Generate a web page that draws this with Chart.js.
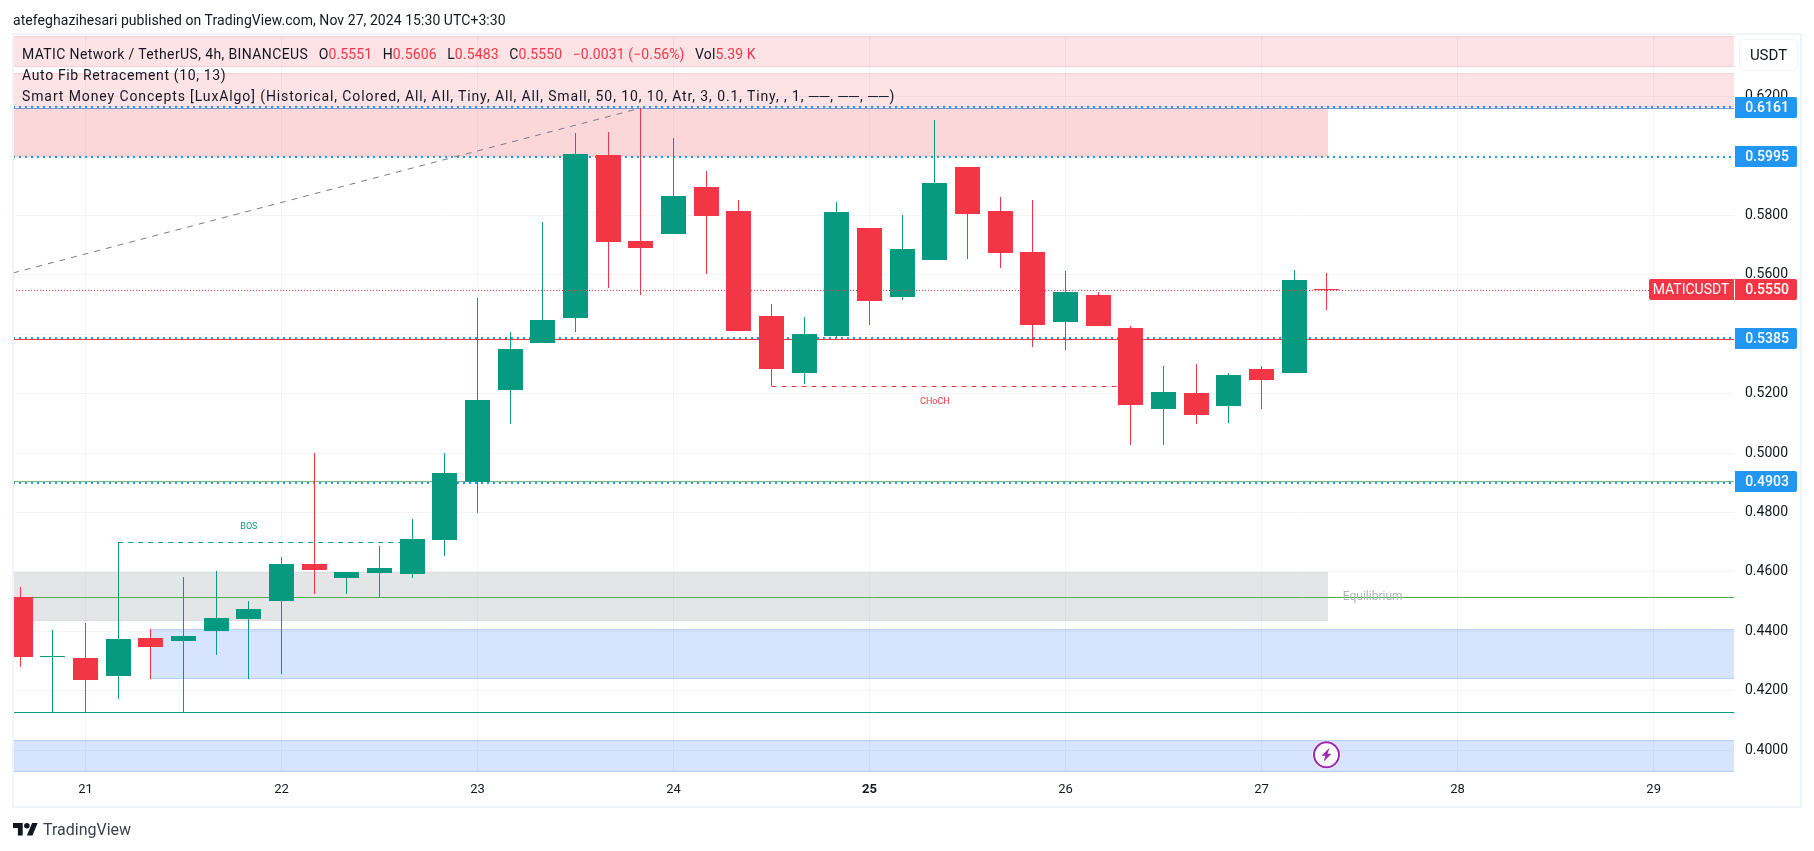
<!DOCTYPE html>
<html>
<head>
<meta charset="utf-8">
<title>MATICUSDT 4h</title>
<script src="https://cdn.jsdelivr.net/npm/chart.js@4/dist/chart.umd.min.js"></script>
<style>
    html, body { margin: 0; background: #fff; }
    #page { position: relative; width: 1814px; height: 851px; overflow: hidden; font-family: Roboto, sans-serif; color: #131722; }
    #budget { position: absolute; left: 0; top: 0; }
    .txt { position: absolute; white-space: pre; font-size: 14px; line-height: 18px; }
    .red { color: #F23645; }
    .gap { margin-left: 10.5px; }
    #unit { position: absolute; left: 1739px; top: 39px; width: 57px; height: 30px; line-height: 30px; border: 1px solid #F0F3FA; border-radius: 5px; text-align: center; font-size: 15px; }
    #logo { position: absolute; left: 13px; top: 820px; }
    #brand { position: absolute; left: 43px; top: 819px; font-size: 16px; line-height: 22px; color: #3B3F4B; }
</style>
</head>
<body>
<div id="page">
    <canvas id="budget" width="1814" height="851"></canvas>
    <div class="txt" style="left:13px;top:11px;letter-spacing:.06px">atefeghazihesari published on TradingView.com, Nov 27, 2024 15:30 UTC+3:30</div>
    <div class="txt" style="left:22px;top:45px;letter-spacing:.13px"><span style="letter-spacing:.38px">MATIC Network / TetherUS, 4h, BINANCEUS</span><span class="gap">O</span><span class="red">0.5551</span><span class="gap">H</span><span class="red">0.5606</span><span class="gap">L</span><span class="red">0.5483</span><span class="gap">C</span><span class="red">0.5550</span><span class="gap red">−0.0031 (−0.56%)</span><span class="gap">Vol</span><span class="red">5.39 K</span></div>
    <div class="txt" style="left:22px;top:66px;letter-spacing:.65px">Auto Fib Retracement (10, 13)</div>
    <div class="txt" style="left:22px;top:87px;letter-spacing:.89px">Smart Money Concepts [LuxAlgo] (Historical, Colored, All, All, Tiny, All, All, Small, 50, 10, 10, Atr, 3, 0.1, Tiny, , 1, ──, ──, ──)</div>
    <div id="unit">USDT</div>
    <svg id="logo" width="25" height="20" viewBox="0 0 36 28"><path fill="#131722" d="M14 22H7V11H0V4h14v18zM28 22h-8l7.5-18h8L28 22z"/><circle fill="#131722" cx="20" cy="8" r="4"/></svg>
    <div id="brand">TradingView</div>
</div>

<script>
// ── CANDLES (one every 4h) ──
const opens = [0.4516, 0.4316, 0.4311, 0.4250, 0.4378, 0.4368, 0.4401, 0.4442, 0.4502, 0.4627, 0.4580, 0.4597, 0.4593, 0.4708,
    0.4903, 0.5212, 0.5370, 0.5455, 0.6003, 0.5714, 0.5737, 0.5895, 0.5815, 0.5461, 0.5270, 0.5394, 0.5757, 0.5525, 0.5650,
    0.5963, 0.5815, 0.5677, 0.5441, 0.5532, 0.5421, 0.5148, 0.5202, 0.5158, 0.5283, 0.5270, 0.5551];
const highs = [0.4549, 0.4405, 0.4428, 0.4700, 0.4408, 0.4583, 0.4603, 0.4502, 0.4650, 0.5000, 0.4600, 0.4687, 0.4778, 0.5000,
    0.5522, 0.5407, 0.5778, 0.6077, 0.6080, 0.6161, 0.6060, 0.5949, 0.5852, 0.5502, 0.5458, 0.5845, 0.5757, 0.5801, 0.6121,
    0.5963, 0.5862, 0.5852, 0.5613, 0.5542, 0.5428, 0.5293, 0.5300, 0.5270, 0.5293, 0.5616, 0.5606];
const lows = [0.4280, 0.4130, 0.4130, 0.4173, 0.4240, 0.4128, 0.4321, 0.4240, 0.4257, 0.4527, 0.4527, 0.4515, 0.4580, 0.4654,
    0.4798, 0.5098, 0.5370, 0.5407, 0.5556, 0.5532, 0.5737, 0.5603, 0.5411, 0.5225, 0.5233, 0.5389, 0.5431, 0.5515, 0.5650,
    0.5653, 0.5623, 0.5357, 0.5347, 0.5428, 0.5027, 0.5027, 0.5098, 0.5101, 0.5148, 0.5270, 0.5483];
const closes = [0.4314, 0.4317, 0.4237, 0.4375, 0.4348, 0.4385, 0.4445, 0.4475, 0.4627, 0.4607, 0.4600, 0.4613, 0.4711, 0.4933,
    0.5179, 0.5350, 0.5448, 0.6006, 0.5710, 0.5690, 0.5865, 0.5798, 0.5411, 0.5283, 0.5401, 0.5811, 0.5512, 0.5687, 0.5909,
    0.5805, 0.5673, 0.5431, 0.5542, 0.5428, 0.5162, 0.5206, 0.5128, 0.5263, 0.5246, 0.5582, 0.5550];

// ── AXES ──
const axisFirst = -0.22;
const axisLast = 52.46;
const axisLow = 0.3927;
const axisHigh = 0.6410;
const priceTicks = [0.40, 0.42, 0.44, 0.46, 0.48, 0.50, 0.52, 0.54, 0.56, 0.58, 0.60, 0.62];
const hiddenPriceLabels = [0.54, 0.60]; // sit under the blue price boxes
const dayLabels = ['21', '22', '23', '24', '25', '26', '27', '28', '29'];
const dayCandles = [2, 8, 14, 20, 26, 32, 38, 44, 50];
const boldDay = '25';

// ── LEVELS ──
const dottedLevels = [0.6161, 0.5995, 0.5385, 0.4903];
const solidLevels = [0.6161, 0.5385, 0.4906, 0.4515, 0.4128];
const solidColors = ['#7A93C8', '#F23645', '#7DB87D', '#4CAF50', '#089981'];
const lastPrice = 0.5550;
const fibLine = [[-0.22, 0.5606], [19, 0.6161]];
const bosLine = [[3, 0.4700], [12, 0.4700]];
const chochLine = [[23, 0.5225], [34, 0.5225]];

// ── ZONES ──
const zoneTops = [0.6403, 0.6279, 0.6161, 0.4600, 0.4407, 0.4034];
const zoneBottoms = [0.6300, 0.6163, 0.5995, 0.4435, 0.4241, 0.3928];
const zoneStarts = [-0.22, -0.22, -0.22, -0.22, 4, -0.22];
const zoneEnds = [52.46, 52.46, 40, 40, 52.46, 52.46];
const zoneKinds = ['faint', 'faint', 'pink', 'grey', 'blue', 'blue'];
const zoneFills = {
    faint: 'rgba(242,54,69,0.14)',
    pink: 'rgba(242,54,69,0.2)',
    grey: 'rgba(120,123,134,0.2)',
    blue: 'rgba(49,121,245,0.2)'
};
const zoneEdges = {
    faint: 'rgba(242,54,69,0.12)',
    pink: 'rgba(242,54,69,0)',
    grey: 'rgba(120,123,134,0.08)',
    blue: 'rgba(49,121,245,0.2)'
};

// ── NOTES ──
const noteTexts = ['BOS', 'CHoCH', 'Equilibrium'];
const noteCandles = [7, 28, 41.4];
const notePrices = [0.4751, 0.5172, 0.4515];
const noteColors = ['#089981', '#F23645', '#B2B5BE'];
const noteFonts = ['9px Roboto', '9px Roboto', '12px Roboto'];

const UP = '#089981';
const DOWN = '#F23645';
const GRID = '#F3F4F6';
const dotNudge = [-1, 0, -1, 1];
const candleCount = opens.length;
const candleColors = opens.map((o, i) => (closes[i] >= o ? UP : DOWN));

function horizontal(price) {
    return [{ x: axisFirst, y: price }, { x: axisLast, y: price }];
}
function linePoints(pairs) {
    return pairs.map(p => ({ x: p[0], y: p[1] }));
}
function lineSet(data, color, extra) {
    return Object.assign({ type: 'line', data, borderColor: color, borderWidth: 1, pointRadius: 0, tension: 0, order: 5 }, extra);
}

// ── PLUGINS ──
// candles land on whole pixels in the reference, keep them crisp here too
const snapPlugin = {
    id: 'snap',
    afterDatasetsUpdate(chart) {
        chart.data.datasets.forEach((ds, i) => {
            const meta = chart.getDatasetMeta(i);
            meta.data.forEach(el => {
                if (ds.type === 'bar') {
                    el.x = Math.floor(el.x) + 0.5;
                    el.y = Math.round(el.y);
                    el.base = Math.round(el.base);
                    if (el.base === el.y) el.base = el.y + 1;
                } else if (ds.snapDot !== undefined) {
                    el.y = Math.round(el.y) + ds.snapDot;
                } else if (ds.snap) {
                    el.y = Math.round(el.y) + 0.5;
                }
            });
        });
    }
};

const zonesPlugin = {
    id: 'zones',
    beforeDatasetsDraw(chart) {
        const { ctx, chartArea, scales } = chart;
        ctx.save();
        ctx.beginPath();
        ctx.rect(chartArea.left, chartArea.top, chartArea.width, chartArea.height);
        ctx.clip();
        zoneTops.forEach((top, i) => {
            const x0 = Math.round(scales.x.getPixelForValue(zoneStarts[i]));
            const x1 = Math.round(scales.x.getPixelForValue(zoneEnds[i])) + 1;
            const y0 = Math.round(scales.y.getPixelForValue(top));
            const y1 = Math.round(scales.y.getPixelForValue(zoneBottoms[i]));
            ctx.fillStyle = zoneFills[zoneKinds[i]];
            ctx.fillRect(x0, y0, x1 - x0, y1 - y0);
            ctx.fillStyle = zoneEdges[zoneKinds[i]];
            ctx.fillRect(x0, y0, x1 - x0, 1);
            ctx.fillRect(x0, y1 - 1, x1 - x0, 1);
        });
        ctx.restore();
    }
};

function priceBox(ctx, scales, price, color) {
    const y = Math.round(scales.y.getPixelForValue(price));
    ctx.fillStyle = color;
    ctx.beginPath();
    ctx.roundRect(1735, y - 11, 62, 21, [0, 2, 2, 0]);
    ctx.fill();
    ctx.fillStyle = '#fff';
    ctx.font = '500 14px Roboto';
    ctx.textAlign = 'center';
    ctx.textBaseline = 'middle';
    ctx.fillText(price.toFixed(4), 1767, y);
    return y;
}

const overlayPlugin = {
    id: 'overlay',
    afterDraw(chart) {
        const { ctx, scales } = chart;
        ctx.save();

        // notes on the chart
        noteTexts.forEach((text, i) => {
            ctx.fillStyle = noteColors[i];
            ctx.font = noteFonts[i];
            ctx.textAlign = 'center';
            ctx.textBaseline = 'middle';
            ctx.fillText(text, scales.x.getPixelForValue(noteCandles[i]), scales.y.getPixelForValue(notePrices[i]));
        });

        // news marker
        const mx = Math.floor(scales.x.getPixelForValue(candleCount - 1)) + 0.5;
        const my = scales.y.getPixelForValue(0.3985);
        ctx.fillStyle = '#fff';
        ctx.beginPath();
        ctx.arc(mx, my, 14, 0, Math.PI * 2);
        ctx.fill();
        ctx.strokeStyle = '#9C27B0';
        ctx.lineWidth = 2;
        ctx.beginPath();
        ctx.arc(mx, my, 12.5, 0, Math.PI * 2);
        ctx.stroke();
        ctx.fillStyle = '#9C27B0';
        ctx.beginPath();
        [[3, -7], [-5, 1], [-1, 1], [-3, 7], [5, -1], [1, -1]].forEach((p, i) => {
            if (i) ctx.lineTo(mx + p[0], my + p[1]);
            else ctx.moveTo(mx + p[0], my + p[1]);
        });
        ctx.closePath();
        ctx.fill();

        // price labels
        dottedLevels.forEach(p => priceBox(ctx, scales, p, '#2196F3'));
        const y = priceBox(ctx, scales, lastPrice, DOWN);
        ctx.fillStyle = DOWN;
        ctx.beginPath();
        ctx.roundRect(1649, y - 11, 85, 21, [2, 0, 0, 2]);
        ctx.fill();
        ctx.fillStyle = '#fff';
        ctx.font = '14px Roboto';
        ctx.fillText('MATICUSDT', 1691, y);

        // frame
        ctx.strokeStyle = '#F0F3FA';
        ctx.lineWidth = 2;
        ctx.strokeRect(13, 34, 1788, 773);
        ctx.restore();
    }
};

// ── CHART SETUP ──
const candleRange = (a, b) => candleColors.map((c, i) => ({ x: i, y: [a[i], b[i]] }));

const ctx = document.getElementById('budget').getContext('2d');
const chart = new Chart(ctx, {
    type: 'bar',
    data: {
        datasets: [
            lineSet(horizontal(lastPrice), DOWN, { borderDash: [1, 2], order: 0, snap: true }),
            { type: 'bar', data: candleRange(opens, closes), backgroundColor: candleColors, barThickness: 25, grouped: false, inflateAmount: 0, order: 1 },
            { type: 'bar', data: candleRange(lows, highs), backgroundColor: candleColors, barThickness: 1, grouped: false, inflateAmount: 0, order: 2 },
            ...dottedLevels.map((p, i) => lineSet(horizontal(p), '#2196F3', { borderWidth: 2, borderDash: [2, 4], order: 3, snapDot: dotNudge[i] })),
            ...solidLevels.map((p, i) => lineSet(horizontal(p), solidColors[i], { order: 4, snap: true })),
            lineSet(linePoints(fibLine), '#787B86', { borderDash: [6, 6] }),
            lineSet(linePoints(bosLine), UP, { borderDash: [5, 5], snap: true }),
            lineSet(linePoints(chochLine), DOWN, { borderDash: [5, 5], snap: true })
        ]
    },
    options: {
        responsive: false,
        animation: false,
        layout: { padding: { left: 13, top: 34, right: 13, bottom: 45 } },
        plugins: {
            legend: { display: false },
            tooltip: { enabled: false }
        },
        scales: {
            x: {
                type: 'linear',
                offset: false,
                min: axisFirst,
                max: axisLast,
                border: { display: false },
                grid: { color: GRID, offset: false, drawTicks: false },
                afterBuildTicks: scale => { scale.ticks = dayCandles.map(value => ({ value })); },
                afterFit: scale => { scale.height = 34; },
                ticks: {
                    autoSkip: false,
                    maxRotation: 0,
                    padding: 10,
                    color: '#131722',
                    font: c => ({ family: 'Roboto', size: 13, weight: dayLabels[c.index] === boldDay ? 'bold' : 'normal' }),
                    callback: value => dayLabels[dayCandles.indexOf(value)]
                }
            },
            y: {
                position: 'right',
                min: axisLow,
                max: axisHigh,
                border: { display: false },
                grid: { color: GRID, drawTicks: false },
                afterBuildTicks: scale => { scale.ticks = priceTicks.map(value => ({ value })); },
                afterFit: scale => { scale.width = 67; },
                ticks: {
                    autoSkip: false,
                    crossAlign: 'center',
                    padding: 11,
                    color: '#131722',
                    font: { family: 'Roboto', size: 14 },
                    callback: value => (hiddenPriceLabels.includes(value) ? '' : value.toFixed(4))
                }
            }
        }
    },
    plugins: [snapPlugin, zonesPlugin, overlayPlugin]
});
</script>
</body>
</html>
